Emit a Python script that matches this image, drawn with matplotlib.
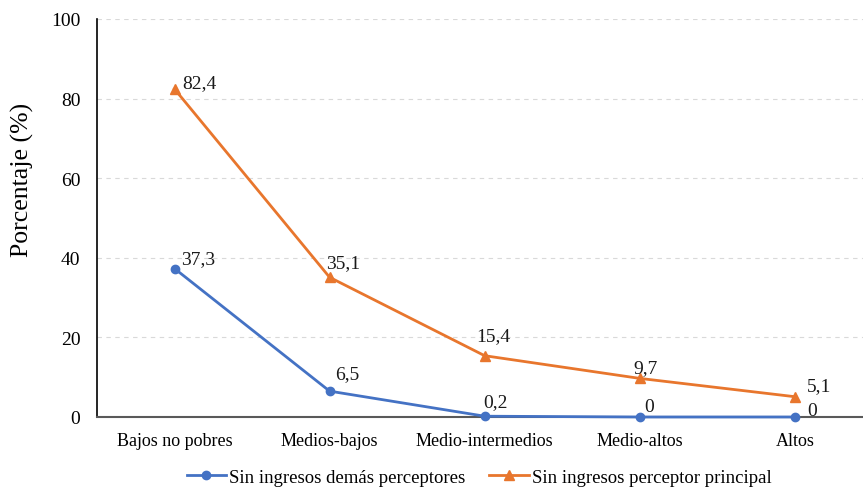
import matplotlib
matplotlib.use("Agg")
import matplotlib.pyplot as plt

categorias = ["Bajos no pobres", "Medios-bajos", "Medio-intermedios", "Medio-altos", "Altos"]
demas_perceptores = [37.3, 6.5, 0.2, 0.0, 0.0]
perceptor_principal = [82.4, 35.1, 15.4, 9.7, 5.1]
etiquetas_demas = ["37,3", "6,5", "0,2", "0", "0"]
etiquetas_principal = ["82,4", "35,1", "15,4", "9,7", "5,1"]
yticks = [0, 20, 40, 60, 80, 100]

plt.rcParams["font.family"] = ["Liberation Serif", "DejaVu Serif"]

azul = "#4472C4"
naranja = "#E8762D"

fig = plt.figure(figsize=(8.63, 4.89), dpi=100)
ax = fig.add_axes([97 / 863, 71 / 489, (863 - 97) / 863, 398 / 489])

x = list(range(len(categorias)))
ax.plot(x, demas_perceptores, color=azul, lw=2, marker="o", ms=6,
        label="Sin ingresos demás perceptores", zorder=3, clip_on=False)
ax.plot(x, perceptor_principal, color=naranja, lw=2, marker="^", ms=7,
        label="Sin ingresos perceptor principal", zorder=3, clip_on=False)

# label offsets (pixels right, pixels up) from each point to the label's left-centre
px = 72 / 100
off_demas = [(7, 10), (6, 18), (-1, 15), (5, 10), (12, 6)]
off_principal = [(8, 6), (-4, 15), (-8, 20), (-6, 11), (12, 11)]
for xi, v, t, o in zip(x, demas_perceptores, etiquetas_demas, off_demas):
    ax.annotate(t, (xi, v), xytext=(o[0] * px, o[1] * px), textcoords="offset points",
                fontsize=14, color="#1a1a1a", va="center", ha="left", zorder=4)
for xi, v, t, o in zip(x, perceptor_principal, etiquetas_principal, off_principal):
    ax.annotate(t, (xi, v), xytext=(o[0] * px, o[1] * px), textcoords="offset points",
                fontsize=14, color="#1a1a1a", va="center", ha="left", zorder=4)

ax.set_xlim(-0.5, 4.44)
ax.set_ylim(0, 100)
ax.set_yticks(yticks)
ax.set_xticks(x)
ax.set_xticklabels(categorias, fontsize=13)
ax.tick_params(axis="y", labelsize=14, length=0, pad=12)
ax.tick_params(axis="x", length=0, pad=11)
ax.yaxis.grid(True, linestyle=(0, (4, 4)), color="#d9d9d9", lw=0.8)
ax.set_axisbelow(True)
for s in ["top", "right"]:
    ax.spines[s].set_visible(False)
ax.spines["left"].set_color("#000000")
ax.spines["left"].set_linewidth(1.2)
ax.spines["bottom"].set_color("#595959")
ax.spines["bottom"].set_linewidth(1.5)

fig.text(22 / 863, 1 - 180 / 489, "Porcentaje (%)", rotation=90,
         fontsize=18.5, ha="center", va="center")

fig.legend(loc="center", bbox_to_anchor=(479 / 863, 1 - 478 / 489), ncol=2,
           frameon=False, fontsize=13.5, handlelength=2.1, columnspacing=1.3,
           handletextpad=0.15, borderaxespad=0)

fig.savefig("out.png", dpi=100)
